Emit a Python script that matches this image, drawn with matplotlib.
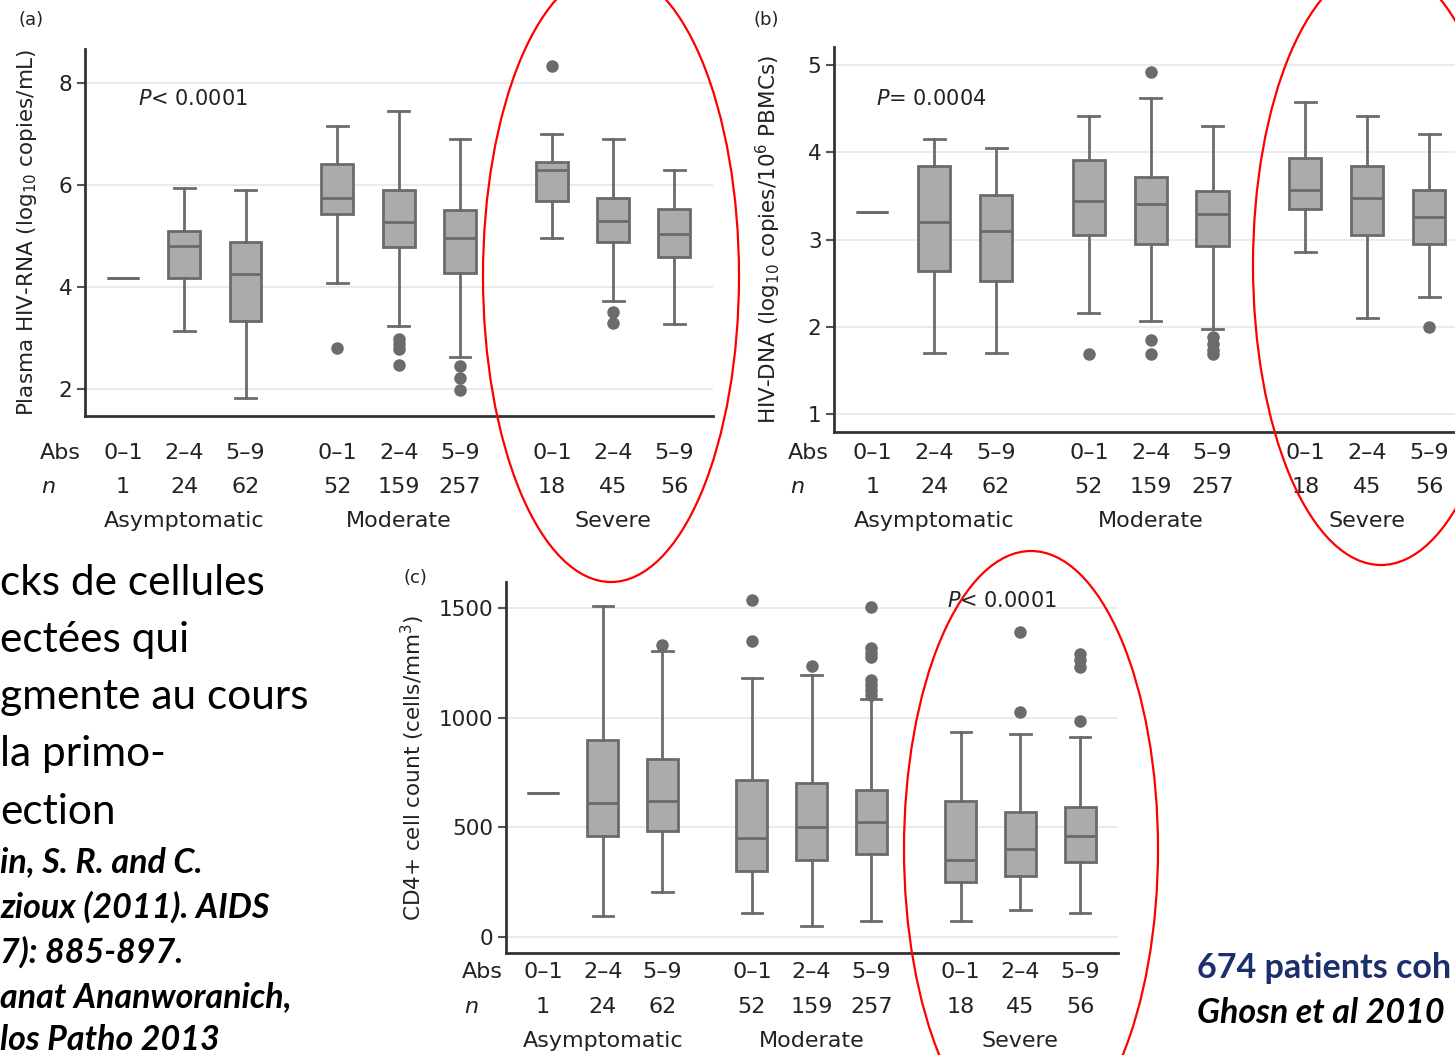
import matplotlib
matplotlib.use("Agg")
import matplotlib.pyplot as plt
import matplotlib.transforms as mtransforms
from matplotlib.patches import Ellipse

W, H = 1455, 1055

# shared category info
ranges = ["0–1", "2–4", "5–9"] * 3
counts = ["1", "24", "62", "52", "159", "257", "18", "45", "56"]
groups = ["Asymptomatic", "Moderate", "Severe"]
group_pos = [2, 5.5, 9]
positions = [1, 2, 3, 4.5, 5.5, 6.5, 8, 9, 10]

# (a) plasma HIV-RNA, log10 copies/mL
rna_lo = [4.17, 3.13, 1.83, 4.07, 3.23, 2.63, 4.95, 3.73, 3.28]
rna_q1 = [4.17, 4.18, 3.34, 5.43, 4.78, 4.28, 5.69, 4.88, 4.59]
rna_med = [4.17, 4.80, 4.25, 5.74, 5.28, 4.95, 6.29, 5.29, 5.04]
rna_q3 = [4.17, 5.10, 4.88, 6.40, 5.89, 5.50, 6.44, 5.74, 5.53]
rna_hi = [4.17, 5.94, 5.89, 7.15, 7.44, 6.89, 6.99, 6.89, 6.29]
rna_out = [[], [], [], [2.80], [2.97, 2.88, 2.79, 2.47],
           [2.45, 2.22, 1.97], [8.32], [3.50, 3.30], []]

# (b) HIV-DNA, log10 copies/10^6 PBMCs
dna_lo = [3.32, 1.70, 1.70, 2.16, 2.07, 1.97, 2.86, 2.10, 2.34]
dna_q1 = [3.32, 2.64, 2.52, 3.05, 2.95, 2.92, 3.35, 3.05, 2.95]
dna_med = [3.32, 3.20, 3.10, 3.44, 3.41, 3.29, 3.57, 3.48, 3.26]
dna_q3 = [3.32, 3.84, 3.51, 3.91, 3.72, 3.56, 3.93, 3.84, 3.57]
dna_hi = [3.32, 4.15, 4.05, 4.42, 4.63, 4.30, 4.58, 4.42, 4.21]
dna_out = [[], [], [], [1.69], [4.92, 1.85, 1.69],
           [1.88, 1.80, 1.73, 1.68], [], [], [2.00]]

# (c) CD4+ cell count, cells/mm3
cd4_lo = [658, 96, 206, 110, 49, 73, 73, 122, 110]
cd4_q1 = [658, 461, 484, 302, 350, 376, 251, 279, 340]
cd4_med = [658, 609, 621, 449, 499, 522, 350, 399, 461]
cd4_q3 = [658, 898, 813, 716, 704, 670, 621, 571, 594]
cd4_hi = [658, 1511, 1307, 1182, 1194, 1084, 937, 926, 911]
cd4_out = [[], [], [1332], [1538, 1352], [1237],
           [1508, 1317, 1294, 1279, 1173, 1150, 1127, 1105],
           [], [1393, 1028], [1290, 1262, 1233, 987]]

box_face = "#ababab"
box_edge = "#6b6b6b"
txt = "#222222"
fs = 16

fig = plt.figure(figsize=(W / 100, H / 100), dpi=100)


def fy(py):
    return 1 - py / H


def rect_mid(rect):
    return (1 - rect[1] - rect[3] / 2) * H


def panel(rect, lo, q1, med, q3, hi, out, ylim, yticks, ylabel, ptext, pxy,
          tag, tag_xy, rows_y, ylabel_x):
    ax = fig.add_axes(rect)
    stats = []
    for i in range(len(positions)):
        stats.append(dict(med=med[i], q1=q1[i], q3=q3[i], whislo=lo[i],
                          whishi=hi[i], fliers=out[i]))
    ax.bxp(stats, positions=positions, widths=0.52, patch_artist=True,
           capwidths=0.34,
           boxprops=dict(facecolor=box_face, edgecolor=box_edge, lw=2),
           medianprops=dict(color=box_edge, lw=2),
           whiskerprops=dict(color=box_edge, lw=2),
           capprops=dict(color=box_edge, lw=2),
           flierprops=dict(marker="o", markerfacecolor=box_edge,
                           markeredgecolor=box_edge, markersize=8))
    ax.set_xlim(0.38, 10.63)
    ax.set_ylim(*ylim)
    ax.set_yticks(yticks)
    ax.set_xticks([])
    for y in yticks:
        ax.axhline(y, color="#ebebeb", lw=1.5, zorder=0)
    for s in ["top", "right"]:
        ax.spines[s].set_visible(False)
    for s in ["left", "bottom"]:
        ax.spines[s].set_linewidth(2)
        ax.spines[s].set_color("#333333")
    ax.tick_params(axis="y", length=6, width=1.5, color="#555555",
                   labelsize=15.5, labelcolor=txt, pad=3)
    ax.text(pxy[0], pxy[1], ptext, fontsize=15, color=txt, va="center")

    tr = mtransforms.blended_transform_factory(ax.transData, fig.transFigure)
    for x, r, n in zip(positions, ranges, counts):
        ax.text(x, fy(rows_y[0]), r, transform=tr, ha="center", va="center",
                fontsize=fs, color=txt)
        ax.text(x, fy(rows_y[1]), n, transform=tr, ha="center", va="center",
                fontsize=fs, color=txt)
    ax.text(-0.36, fy(rows_y[0]), "Abs", transform=tr, ha="left",
            va="center", fontsize=fs, color=txt)
    ax.text(-0.33, fy(rows_y[1]), "$n$", transform=tr, ha="left",
            va="center", fontsize=fs, color=txt)
    for x, g in zip(group_pos, groups):
        ax.text(x, fy(rows_y[2]), g, transform=tr, ha="center", va="center",
                fontsize=fs, color=txt)
    fig.text(ylabel_x / W, fy(rect_mid(rect)), ylabel, rotation=90,
             ha="center", va="center", fontsize=15.5, color=txt)
    fig.text(tag_xy[0] / W, fy(tag_xy[1]), tag, ha="center", va="center",
             fontsize=13, color=txt)
    return ax


panel([85 / W, fy(416), 628 / W, 367 / H],
      rna_lo, rna_q1, rna_med, rna_q3, rna_hi, rna_out,
      (1.47, 8.66), [2, 4, 6, 8],
      r"Plasma HIV-RNA (log$_{10}$ copies/mL)",
      r"$P$< 0.0001", (1.25, 7.69), "(a)", (31, 20), (453, 487, 521), 27)

panel([834 / W, fy(432), 634 / W, 385 / H],
      dna_lo, dna_q1, dna_med, dna_q3, dna_hi, dna_out,
      (0.79, 5.21), [1, 2, 3, 4, 5],
      r"HIV-DNA (log$_{10}$ copies/10$^6$ PBMCs)",
      r"$P$= 0.0004", (1.06, 4.61), "(b)", (766, 20), (453, 487, 521), 768)

panel([506 / W, fy(953.3), 611.7 / W, 371.6 / H],
      cd4_lo, cd4_q1, cd4_med, cd4_q3, cd4_hi, cd4_out,
      (-76, 1622), [0, 500, 1000, 1500],
      r"CD4+ cell count (cells/mm$^3$)",
      r"$P$< 0.0001", (7.77, 1533), "(c)", (415, 578), (972, 1007, 1041), 413)

# slide text, cut at the left edge
body = ["cks de cellules", "ectées qui", "gmente au cours", "la primo-",
        "ection"]
body_y = [583, 640, 697, 754, 812]
for s, y in zip(body, body_y):
    fig.text(0.0, fy(y), s, fontsize=30.5, family="Lato", va="center",
             color="black")

refs = ["in, S. R. and C.", "zioux (2011). AIDS", "7): 885-897.",
        "anat Ananworanich,", "los Patho 2013"]
refs_y = [862, 907, 952, 997, 1040]
for s, y in zip(refs, refs_y):
    fig.text(0.0, fy(y), s, fontsize=24.5, family="Lato", weight="bold",
             style="italic", va="center", color="black")

# bottom-right caption, only the part visible on the slide
fig.text(1197 / W, fy(968), "674 patients coh", fontsize=24.5,
         family="Lato", weight="bold", va="center", color="#1a2f6b")
fig.text(1197 / W, fy(1013), "Ghosn et al 2010", fontsize=24.5,
         family="Lato", weight="bold", style="italic", va="center",
         color="black")

# red ellipses
ov = fig.add_axes([0, 0, 1, 1])
ov.set_xlim(0, W)
ov.set_ylim(H, 0)
ov.axis("off")
for cx, cy, w, h in [(611, 276, 256, 612), (1381, 265, 256, 600),
                     (1031, 849, 254, 596)]:
    ov.add_patch(Ellipse((cx, cy), w, h, fill=False, ec="red", lw=1.6))

fig.savefig("out.png", dpi=100)
